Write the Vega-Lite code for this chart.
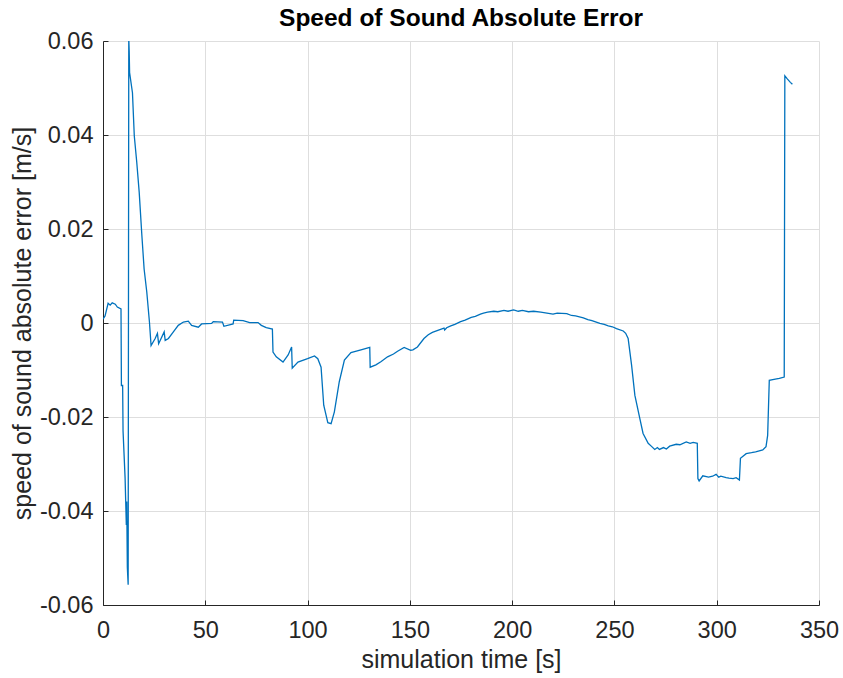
{
  "$schema": "https://vega.github.io/schema/vega-lite/v6.json",
  "autosize": {"type": "none"},
  "width": 716,
  "height": 564,
  "padding": {"left": 103, "top": 41, "right": 24, "bottom": 73},
  "background": "white",
  "config": {
    "view": {"stroke": null},
    "font": "Liberation Sans",
    "axis": {
      "labelFont": "Liberation Sans",
      "titleFont": "Liberation Sans",
      "labelColor": "#262626",
      "titleColor": "#262626",
      "titleFontWeight": "normal",
      "domainColor": "#262626",
      "tickColor": "#262626",
      "gridColor": "#dedede",
      "gridWidth": 1,
      "domainWidth": 1,
      "labelFontSize": 23.5,
      "titleFontSize": 25
    }
  },
  "title": {
    "text": "Speed of Sound Absolute Error",
    "font": "Liberation Sans",
    "fontSize": 24.5,
    "fontWeight": "bold",
    "color": "#000000",
    "anchor": "middle",
    "offset": -2
  },
  "data": {
    "values": [
      {"t": 0, "e": 0.0008}, {"t": 1, "e": 0.0015}, {"t": 2.5, "e": 0.0042}, {"t": 3.5, "e": 0.0038},
      {"t": 4.5, "e": 0.0043}, {"t": 6, "e": 0.004}, {"t": 7, "e": 0.0034}, {"t": 8.8, "e": 0.003},
      {"t": 9.0, "e": -0.0133}, {"t": 9.6, "e": -0.0133}, {"t": 9.8, "e": -0.023}, {"t": 10.8, "e": -0.033},
      {"t": 11.4, "e": -0.043}, {"t": 11.6, "e": -0.038}, {"t": 11.9, "e": -0.052}, {"t": 12.3, "e": -0.0557},
      {"t": 12.6, "e": 0.0605}, {"t": 12.8, "e": 0.058}, {"t": 13.0, "e": 0.0533}, {"t": 14.4, "e": 0.049},
      {"t": 15.3, "e": 0.0398}, {"t": 16.5, "e": 0.0342}, {"t": 17.7, "e": 0.0278}, {"t": 19.0, "e": 0.0186},
      {"t": 20.1, "e": 0.0115}, {"t": 21.4, "e": 0.0066}, {"t": 22.7, "e": 0.0002}, {"t": 23.5, "e": -0.0048},
      {"t": 25.5, "e": -0.0033}, {"t": 26.6, "e": -0.0022}, {"t": 27.2, "e": -0.0044}, {"t": 29.9, "e": -0.0019},
      {"t": 30.4, "e": -0.0037}, {"t": 32.0, "e": -0.0033}, {"t": 34.4, "e": -0.0019}, {"t": 36.8, "e": -0.0005},
      {"t": 39.3, "e": 0.0002}, {"t": 41.7, "e": 0.0004}, {"t": 43.3, "e": -0.0005}, {"t": 46.6, "e": -0.0009},
      {"t": 48.2, "e": -0.0002}, {"t": 53.1, "e": -0.0001}, {"t": 53.9, "e": 0.0003}, {"t": 58.4, "e": 0.0002},
      {"t": 59.1, "e": -0.0007}, {"t": 63.6, "e": -0.0002}, {"t": 63.9, "e": 0.0006}, {"t": 68.5, "e": 0.0005},
      {"t": 71.7, "e": 0.0001}, {"t": 75.8, "e": 0.0001}, {"t": 77.4, "e": -0.0005}, {"t": 79.8, "e": -0.001},
      {"t": 82.8, "e": -0.0013}, {"t": 83.1, "e": -0.0062}, {"t": 84.7, "e": -0.0072}, {"t": 88.0, "e": -0.0083},
      {"t": 90.5, "e": -0.0068}, {"t": 92.2, "e": -0.0051}, {"t": 92.5, "e": -0.0096}, {"t": 95.3, "e": -0.0083},
      {"t": 100, "e": -0.0076}, {"t": 103.4, "e": -0.007}, {"t": 105, "e": -0.0076}, {"t": 106.6, "e": -0.0094},
      {"t": 107.5, "e": -0.015}, {"t": 107.9, "e": -0.0175}, {"t": 109.9, "e": -0.0212}, {"t": 111.5, "e": -0.0214},
      {"t": 113.1, "e": -0.0189}, {"t": 115.5, "e": -0.0125}, {"t": 118, "e": -0.0079}, {"t": 121.2, "e": -0.0063},
      {"t": 126.1, "e": -0.0057}, {"t": 130.4, "e": -0.0052}, {"t": 130.6, "e": -0.0094}, {"t": 133.4, "e": -0.0089},
      {"t": 136, "e": -0.0082}, {"t": 139.1, "e": -0.0072}, {"t": 142, "e": -0.0066}, {"t": 144, "e": -0.006},
      {"t": 147.2, "e": -0.0052}, {"t": 150.4, "e": -0.0058}, {"t": 151.5, "e": -0.0057}, {"t": 153.7, "e": -0.0051},
      {"t": 156.9, "e": -0.0033}, {"t": 159, "e": -0.0025}, {"t": 161, "e": -0.002}, {"t": 164, "e": -0.0015},
      {"t": 166.7, "e": -0.0011}, {"t": 167, "e": -0.0015}, {"t": 168, "e": -0.001}, {"t": 170, "e": -0.0006},
      {"t": 172, "e": -0.0003}, {"t": 174.8, "e": 0.0003}, {"t": 177, "e": 0.0006}, {"t": 180, "e": 0.0012},
      {"t": 182, "e": 0.0014}, {"t": 184.5, "e": 0.0019}, {"t": 186, "e": 0.0021}, {"t": 188, "e": 0.0023},
      {"t": 191, "e": 0.0025}, {"t": 193, "e": 0.0024}, {"t": 196, "e": 0.0027}, {"t": 198, "e": 0.0025},
      {"t": 200.7, "e": 0.0028}, {"t": 203, "e": 0.0025}, {"t": 205, "e": 0.0027}, {"t": 208, "e": 0.0024},
      {"t": 210.5, "e": 0.0025}, {"t": 214, "e": 0.0023}, {"t": 217, "e": 0.0021}, {"t": 220, "e": 0.0019},
      {"t": 222, "e": 0.0021}, {"t": 226.7, "e": 0.002}, {"t": 229, "e": 0.0016}, {"t": 231, "e": 0.0015},
      {"t": 234.8, "e": 0.0011}, {"t": 237, "e": 0.0007}, {"t": 239, "e": 0.0005}, {"t": 242.9, "e": -0.0001},
      {"t": 245, "e": -0.0003}, {"t": 247, "e": -0.0006}, {"t": 249, "e": -0.0008}, {"t": 251, "e": -0.0012},
      {"t": 254.3, "e": -0.0017}, {"t": 255.5, "e": -0.0022}, {"t": 256.7, "e": -0.0033}, {"t": 258.4, "e": -0.009},
      {"t": 260, "e": -0.0154}, {"t": 262.4, "e": -0.0203}, {"t": 264, "e": -0.0235}, {"t": 266.5, "e": -0.0256},
      {"t": 268, "e": -0.0262}, {"t": 269.7, "e": -0.0269}, {"t": 271, "e": -0.0265}, {"t": 272, "e": -0.0269},
      {"t": 274, "e": -0.0265}, {"t": 275.4, "e": -0.0268}, {"t": 277, "e": -0.0262}, {"t": 280.2, "e": -0.0258},
      {"t": 282, "e": -0.0259}, {"t": 285.1, "e": -0.0253}, {"t": 287, "e": -0.0256}, {"t": 288.5, "e": -0.0254},
      {"t": 290.5, "e": -0.0256}, {"t": 290.8, "e": -0.0331}, {"t": 291.4, "e": -0.0336}, {"t": 293.2, "e": -0.0325},
      {"t": 296, "e": -0.0328}, {"t": 298, "e": -0.0326}, {"t": 299.7, "e": -0.0322}, {"t": 301, "e": -0.0328},
      {"t": 302, "e": -0.0326}, {"t": 304.6, "e": -0.0329}, {"t": 306, "e": -0.033}, {"t": 308, "e": -0.0331},
      {"t": 309.5, "e": -0.0329}, {"t": 311.1, "e": -0.0334}, {"t": 311.6, "e": -0.0288}, {"t": 314.4, "e": -0.0278},
      {"t": 317, "e": -0.0276}, {"t": 319, "e": -0.0274}, {"t": 320.8, "e": -0.0272}, {"t": 322.5, "e": -0.027},
      {"t": 324.1, "e": -0.0263}, {"t": 324.9, "e": -0.0239}, {"t": 325.7, "e": -0.0122}, {"t": 328, "e": -0.012},
      {"t": 330.6, "e": -0.0118}, {"t": 333, "e": -0.0115}, {"t": 333.3, "e": 0.0526}, {"t": 334.6, "e": 0.0519},
      {"t": 336, "e": 0.0512}, {"t": 337, "e": 0.0508}
    ]
  },
  "mark": {"type": "line", "color": "#0072BD", "strokeWidth": 1.3, "clip": true, "interpolate": "linear"},
  "encoding": {
    "x": {
      "field": "t",
      "type": "quantitative",
      "scale": {"domain": [0, 350], "nice": false, "zero": false},
      "axis": {
        "title": "simulation time [s]",
        "values": [0, 50, 100, 150, 200, 250, 300, 350],
        "tickSize": -5,
        "labelPadding": 18,
        "titlePadding": 6,
        "labelFlush": false,
        "format": "d"
      }
    },
    "y": {
      "field": "e",
      "type": "quantitative",
      "scale": {"domain": [-0.06, 0.06], "nice": false, "zero": false},
      "axis": {
        "title": "speed of sound absolute error [m/s]",
        "values": [-0.06, -0.04, -0.02, 0, 0.02, 0.04, 0.06],
        "tickSize": -5,
        "labelPadding": 15,
        "titlePadding": 4,
        "labelFlush": false,
        "labelExpr": "datum.value == 0 ? '0' : (datum.value < 0 ? '-' : '') + format(abs(datum.value), '.2f')"
      }
    }
  }
}
